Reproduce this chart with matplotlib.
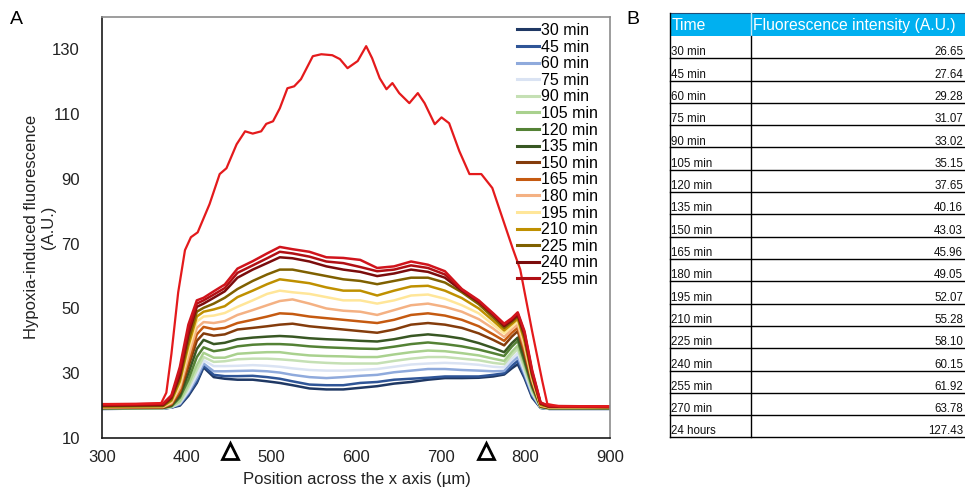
import matplotlib
matplotlib.use('Agg')
import matplotlib.pyplot as plt
from matplotlib.patches import Rectangle

plt.rcParams['font.family'] = ['Liberation Sans', 'DejaVu Sans']

# ---------------- data ----------------
x_um = [300, 372, 382, 392, 402, 412, 420, 432, 445, 460, 478, 495, 510, 525, 545, 565, 585,
        605, 625, 645, 665, 685, 705, 725, 745, 762, 775, 784, 791, 799, 808, 818, 828, 900]

t30 = [19.0, 19.1, 19.4, 20.0, 23.0, 27.0, 31.8, 28.8, 28.3, 28.0, 28.0, 27.5, 27.0, 26.3, 25.3, 25.0, 25.0,
       25.5, 26.0, 26.8, 27.3, 28.0, 28.5, 28.5, 28.6, 29.0, 29.6, 31.5, 32.8, 28.5, 22.5, 19.3, 19.0, 19.0]
t45 = [19.0, 19.1, 19.4, 20.3, 23.5, 27.5, 32.3, 29.5, 29.1, 29.1, 29.2, 28.8, 28.3, 27.5, 26.5, 26.3, 26.3,
       27.0, 27.3, 28.0, 28.3, 28.6, 29.0, 29.0, 29.0, 29.5, 30.0, 32.3, 33.8, 29.0, 23.0, 19.3, 19.0, 19.0]
t60 = [19.0, 19.1, 19.5, 20.5, 24.0, 28.5, 33.0, 30.6, 30.6, 30.7, 30.8, 30.6, 30.2, 29.5, 28.8, 28.5, 28.8,
       29.2, 29.5, 30.3, 30.8, 31.3, 31.3, 31.0, 30.8, 30.6, 30.7, 33.3, 35.0, 29.8, 23.5, 19.4, 19.0, 19.0]
t75 = [19.1, 19.2, 19.5, 20.8, 24.5, 29.5, 34.0, 32.2, 32.2, 32.3, 32.5, 32.3, 32.0, 31.5, 31.0, 30.8, 30.8,
       31.0, 31.3, 32.0, 32.7, 33.0, 33.2, 33.0, 32.6, 32.0, 31.8, 34.4, 36.2, 30.5, 24.0, 19.4, 19.1, 19.1]
t90 = [19.1, 19.2, 19.6, 21.0, 25.5, 31.0, 35.0, 33.5, 33.7, 34.3, 34.5, 34.5, 34.3, 34.0, 33.5, 33.2, 33.0,
       33.0, 33.0, 33.8, 34.5, 35.0, 35.0, 34.5, 34.0, 33.2, 32.8, 35.6, 37.5, 31.5, 24.5, 19.5, 19.1, 19.1]
t105 = [19.1, 19.2, 19.7, 21.5, 26.5, 32.5, 36.3, 34.8, 34.8, 36.0, 36.3, 36.5, 36.5, 36.0, 35.5, 35.3, 35.2,
        35.0, 35.0, 35.8, 36.5, 37.0, 36.8, 36.2, 35.5, 34.5, 33.8, 36.6, 38.5, 32.5, 25.0, 19.5, 19.1, 19.1]
t120 = [19.2, 19.3, 19.8, 22.5, 28.0, 35.0, 38.0, 36.8, 37.3, 38.3, 38.8, 39.0, 39.0, 38.8, 38.3, 38.0, 37.8,
        37.6, 37.5, 38.2, 39.0, 39.5, 39.0, 38.3, 37.3, 36.2, 35.3, 38.2, 40.0, 33.5, 25.7, 19.6, 19.2, 19.2]
t135 = [19.2, 19.3, 20.0, 23.0, 30.0, 37.5, 40.3, 39.0, 39.4, 40.5, 41.0, 41.3, 41.5, 41.3, 40.8, 40.5, 40.3,
        40.0, 39.8, 40.5, 41.5, 42.0, 41.5, 40.7, 39.3, 37.8, 36.5, 39.3, 41.0, 34.5, 26.2, 19.7, 19.2, 19.2]
t150 = [19.3, 19.4, 20.3, 24.0, 32.0, 40.0, 42.3, 41.6, 42.0, 43.5, 44.0, 44.5, 45.0, 45.3, 44.5, 44.0, 43.5,
        43.0, 42.5, 43.5, 45.0, 45.5, 45.0, 44.0, 42.3, 40.3, 38.6, 41.3, 43.0, 36.0, 27.0, 19.8, 19.3, 19.3]
t165 = [19.4, 19.5, 20.5, 24.5, 33.5, 42.0, 44.3, 43.6, 44.0, 45.5, 46.5, 47.5, 48.5, 48.3, 47.5, 47.0, 46.5,
        46.0, 45.5, 46.5, 48.0, 48.5, 47.8, 46.5, 44.5, 42.0, 40.0, 42.5, 44.0, 37.0, 27.5, 19.9, 19.4, 19.4]
t180 = [19.5, 19.6, 20.8, 25.5, 35.0, 44.0, 45.8, 45.5, 46.1, 48.0, 49.5, 51.0, 52.3, 52.8, 51.5, 50.0, 49.3,
        49.0, 48.0, 49.5, 51.0, 51.5, 50.5, 49.0, 46.7, 43.8, 41.2, 43.5, 45.0, 38.0, 28.0, 20.0, 19.5, 19.4]
t195 = [19.6, 19.7, 21.2, 26.5, 37.0, 46.0, 47.5, 47.8, 48.6, 50.5, 52.5, 54.5, 55.5, 55.0, 54.5, 53.5, 52.5,
        52.5, 51.5, 52.5, 54.0, 54.3, 53.0, 51.0, 48.5, 45.0, 42.3, 44.4, 46.0, 39.0, 28.5, 20.1, 19.5, 19.4]
t210 = [19.7, 19.8, 21.5, 27.5, 38.5, 47.5, 49.0, 49.7, 50.7, 53.5, 55.5, 57.5, 59.0, 58.5, 57.8, 56.5, 55.5,
        55.5, 54.0, 55.5, 56.8, 57.0, 55.5, 53.2, 50.0, 46.2, 43.2, 45.2, 46.8, 40.0, 29.0, 20.2, 19.6, 19.5]
t225 = [19.8, 19.9, 22.0, 28.5, 40.0, 49.0, 50.2, 51.5, 53.3, 56.0, 58.5, 60.5, 62.0, 62.0, 61.0, 60.0, 59.0,
        58.5, 57.5, 58.5, 59.5, 59.5, 58.0, 55.0, 51.3, 47.2, 44.0, 45.8, 47.5, 41.0, 29.5, 20.5, 19.6, 19.5]
t240 = [20.0, 20.2, 22.5, 29.5, 42.0, 50.5, 51.5, 53.3, 55.3, 59.5, 62.0, 64.0, 65.8, 65.5, 64.5, 63.0, 62.0,
        61.3, 60.0, 60.8, 62.0, 61.3, 59.5, 55.5, 52.0, 48.0, 44.6, 46.3, 48.0, 42.0, 30.0, 20.7, 19.7, 19.6]
t255 = [20.2, 20.4, 22.8, 30.5, 43.0, 51.5, 52.5, 54.3, 56.3, 61.0, 63.3, 65.5, 67.5, 67.0, 66.0, 64.5, 64.0,
        62.8, 61.5, 62.0, 63.3, 62.5, 60.5, 55.8, 52.2, 48.2, 45.0, 46.7, 48.5, 42.5, 30.5, 20.8, 19.8, 19.6]
t270 = [20.4, 20.6, 23.2, 32.0, 45.0, 52.5, 53.3, 55.3, 57.4, 62.3, 64.6, 67.0, 69.0, 68.3, 67.5, 65.8, 65.6,
        65.0, 62.5, 63.0, 64.5, 63.5, 61.5, 56.0, 52.5, 48.5, 45.3, 47.0, 48.8, 43.0, 31.0, 21.0, 19.9, 19.7]

series_labels = ['30 min', '45 min', '60 min', '75 min', '90 min', '105 min', '120 min', '135 min',
                 '150 min', '165 min', '180 min', '195 min', '210 min', '225 min', '240 min', '255 min',
                 '270 min']
series_colors = ['#1F3864', '#2F5597', '#8FAADC', '#DAE3F3', '#C5E0B4', '#A9D18E', '#548235', '#385723',
                 '#843C0C', '#C55A11', '#F4B183', '#FFE699', '#BF9000', '#7F6000', '#7B0C0C', '#B00F14',
                 '#D0141C']

x_24h = [300, 340, 370, 376, 382, 390, 398, 405, 413, 427, 439, 447, 459, 469, 478, 488, 494, 502, 510,
         519, 527, 535, 549, 559, 572, 581, 590, 602, 612, 619, 628, 636, 643, 651, 663, 673, 681, 693,
         701, 710, 722, 734, 748, 761, 773, 785, 794, 808, 820, 826, 840, 900]
y_24h = [20.5, 20.5, 20.8, 24.0, 36.0, 55.0, 68.0, 72.0, 73.5, 82.2, 91.5, 93.3, 100.7, 104.7, 104.0,
         104.7, 107.0, 107.8, 111.8, 118.0, 118.6, 120.8, 127.9, 128.5, 128.2, 127.0, 124.2, 126.4, 131.0,
         127.3, 121.1, 117.7, 119.6, 116.5, 113.4, 116.5, 113.4, 106.9, 109.0, 107.2, 98.6, 91.5, 91.5,
         87.2, 77.9, 68.6, 62.0, 43.0, 27.6, 20.5, 19.8, 19.8]

marker_um = [451, 753]

tbl_times = ['30 min', '45 min', '60 min', '75 min', '90 min', '105 min', '120 min', '135 min', '150 min',
             '165 min', '180 min', '195 min', '210 min', '225 min', '240 min', '255 min', '270 min',
             '24 hours']
tbl_values = ['26.65', '27.64', '29.28', '31.07', '33.02', '35.15', '37.65', '40.16', '43.03', '45.96',
              '49.05', '52.07', '55.28', '58.10', '60.15', '61.92', '63.78', '127.43']

# ---------------- figure ----------------
W, H = 965, 490
fig = plt.figure(figsize=(W / 100, H / 100), dpi=100)
L, R, T, B = 102, 610, 17, 438
ax = fig.add_axes([L / W, 1 - B / H, (R - L) / W, (B - T) / H])

series = [t30, t45, t60, t75, t90, t105, t120, t135, t150, t165, t180, t195, t210, t225, t240, t255, t270]
handles = []
for vals, lab, col in zip(series, series_labels, series_colors):
    h, = ax.plot(x_um, vals, color=col, lw=1.8, label=lab, solid_joinstyle='round')
    handles.append(h)
ax.plot(x_24h, y_24h, color='#E41A1C', lw=1.6, solid_joinstyle='round')

ax.set_xlim(300, 900)
ax.set_ylim(10, 140)
ax.set_xticks(range(300, 901, 100))
ax.set_yticks(range(10, 131, 20))
ax.tick_params(length=0, labelsize=12, colors='#222222')
ax.tick_params(axis='x', pad=9)
ax.tick_params(axis='y', pad=16)
for s in ['left', 'bottom']:
    ax.spines[s].set_color('#1a1a1a')
    ax.spines[s].set_linewidth(1.2)
for s in ['top', 'right']:
    ax.spines[s].set_color('#8c8c8c')
    ax.spines[s].set_linewidth(1.2)

leg = ax.legend(handles=handles[:16], loc='upper right', bbox_to_anchor=(598 / W, 1 - 23 / H),
                bbox_transform=fig.transFigure, frameon=False, fontsize=11.5, handlelength=1.4,
                handletextpad=0.1, labelspacing=0.1, borderpad=0, borderaxespad=0)
for ln in leg.get_lines():
    ln.set_linewidth(2.2)

ax.plot(marker_um, [-0.031] * len(marker_um), transform=ax.get_xaxis_transform(), ls='none',
        marker='^', ms=12, mfc='white', mec='black', mew=2, clip_on=False)

fig.text(40 / W, 1 - 227 / H, 'Hypoxia-induced fluorescence\n(A.U.)', rotation=90, ha='center',
         va='center', multialignment='center', fontsize=12, color='#222222')
fig.text(357 / W, 1 - 479 / H, 'Position across the x axis (µm)', ha='center', va='center',
         fontsize=12, color='#222222')
fig.text(10 / W, 1 - 19 / H, 'A', fontsize=14, va='center', ha='left')
fig.text(626 / W, 1 - 19 / H, 'B', fontsize=14, va='center', ha='left')

# ---------------- table ----------------
tab = fig.add_axes([0, 0, 1, 1])
tab.set_xlim(0, W)
tab.set_ylim(H, 0)
tab.axis('off')
x0, xdiv, x1 = 670, 751, 965
htop, hbot = 13, 36
rowh = 22.3
tab.add_patch(Rectangle((x0, htop), x1 - x0, hbot - htop, fc='#00B0F0', ec='none'))
tab.plot([x0, x1], [htop, htop], color='#1F4E79', lw=0.8)
tab.plot([xdiv, xdiv], [htop, hbot], color='#BFE8F8', lw=1)
tab.text(672, (htop + hbot) / 2 + 1, 'Time', color='white', fontsize=11.3, ha='left', va='center')
tab.text(753, (htop + hbot) / 2 + 1, 'Fluorescence intensity (A.U.)', color='white', fontsize=11.3,
         ha='left', va='center')
nrows = len(tbl_times)
bottom_all = hbot + nrows * rowh
tab.plot([x0, x0], [htop, bottom_all], color='black', lw=1)
tab.plot([xdiv, xdiv], [hbot, bottom_all], color='black', lw=1)
for i, (tt, vv) in enumerate(zip(tbl_times, tbl_values)):
    rb = hbot + (i + 1) * rowh
    tab.plot([x0, x1], [rb, rb], color='black', lw=1)
    tab.text(671, rb - 3, tt, fontsize=8.3, ha='left', va='baseline', color='#111111')
    tab.text(963, rb - 3, vv, fontsize=8.3, ha='right', va='baseline', color='#111111')

fig.savefig('out.png', dpi=100)
